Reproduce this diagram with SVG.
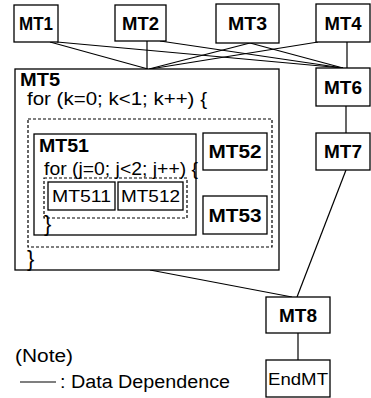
<svg xmlns="http://www.w3.org/2000/svg" width="371" height="398" viewBox="0 0 371 398">
<style>
.box{fill:#fff;stroke:#000;stroke-width:1.3}
.dash{fill:none;stroke:#000;stroke-width:1.2;stroke-dasharray:3,2}
.lbl{font-family:"Liberation Sans",Arial,sans-serif;font-size:18px;font-weight:bold;text-anchor:middle;fill:#000}
.sm{font-family:"Liberation Sans",Arial,sans-serif;font-size:17px;text-anchor:middle;fill:#000}
.code{font-family:"Liberation Sans",Arial,sans-serif;font-size:18px;fill:#000}
.edge{fill:none;stroke:#000;stroke-width:1.2}
</style>
<rect width="371" height="398" fill="#fff"/>
<g id="connectors">
<line class="edge" x1="50" y1="42" x2="148" y2="69"/>
<line class="edge" x1="57" y1="42" x2="343" y2="68"/>
<line class="edge" x1="147" y1="41" x2="147" y2="69"/>
<line class="edge" x1="160" y1="41" x2="343" y2="68"/>
<line class="edge" x1="250" y1="43" x2="149" y2="69"/>
<line class="edge" x1="250" y1="43" x2="343" y2="68"/>
<line class="edge" x1="318" y1="42" x2="150" y2="69"/>
<line class="edge" x1="347" y1="42" x2="347" y2="68"/>
<line class="edge" x1="346" y1="106" x2="346" y2="133"/>
<line class="edge" x1="346" y1="170" x2="297" y2="297"/>
<line class="edge" x1="150" y1="270" x2="292" y2="297"/>
<line class="edge" x1="298" y1="333" x2="298" y2="360"/>
<line class="edge" x1="234" y1="170" x2="234" y2="196"/>
</g>
<g id="MT1"><rect class="box" x="14" y="5" width="44" height="37"/><text class="lbl" x="36" y="30" textLength="34" lengthAdjust="spacingAndGlyphs">MT1</text></g>
<g id="MT2"><rect class="box" x="115" y="5" width="51" height="36"/><text class="lbl" x="140.5" y="30" textLength="37" lengthAdjust="spacingAndGlyphs">MT2</text></g>
<g id="MT3"><rect class="box" x="216" y="4" width="63" height="39"/><text class="lbl" x="247.5" y="30" textLength="39" lengthAdjust="spacingAndGlyphs">MT3</text></g>
<g id="MT4"><rect class="box" x="316" y="4" width="54" height="38"/><text class="lbl" x="343" y="30" textLength="37" lengthAdjust="spacingAndGlyphs">MT4</text></g>
<g id="MT5">
<rect class="box" x="15" y="69" width="264" height="201"/>
<text class="lbl" x="20" y="86" style="text-anchor:start" textLength="40" lengthAdjust="spacingAndGlyphs">MT5</text>
<text class="code" x="27" y="105" textLength="180" lengthAdjust="spacingAndGlyphs">for (k=0; k&lt;1; k++) {</text>
<rect class="dash" x="28" y="119" width="244" height="128"/>
<text class="code" x="27" y="266" style="font-size:22px">}</text>
</g>
<g id="MT51">
<rect class="box" x="34" y="134" width="162" height="101"/>
<text class="lbl" x="39" y="152" style="text-anchor:start" textLength="50" lengthAdjust="spacingAndGlyphs">MT51</text>
<text class="code" x="44" y="175" textLength="154" lengthAdjust="spacingAndGlyphs">for (j=0; j&lt;2; j++) {</text>
<rect class="dash" x="44" y="178" width="143" height="40"/>
<text class="code" x="44" y="231" style="font-size:22px">}</text>
</g>
<g id="MT511"><rect class="box" x="48" y="182" width="67" height="28"/><text class="sm" x="81.5" y="202" textLength="59" lengthAdjust="spacingAndGlyphs">MT511</text></g>
<g id="MT512"><rect class="box" x="118" y="182" width="65" height="28"/><text class="sm" x="150.5" y="202" textLength="59" lengthAdjust="spacingAndGlyphs">MT512</text></g>
<g id="MT52"><rect class="box" x="203" y="133" width="64" height="37"/><text class="lbl" x="235" y="158" textLength="53" lengthAdjust="spacingAndGlyphs">MT52</text></g>
<g id="MT53"><rect class="box" x="203" y="196" width="64" height="38"/><text class="lbl" x="235" y="222" textLength="53" lengthAdjust="spacingAndGlyphs">MT53</text></g>
<g id="MT6"><rect class="box" x="316" y="68" width="54" height="38"/><text class="lbl" x="343" y="94" textLength="38" lengthAdjust="spacingAndGlyphs">MT6</text></g>
<g id="MT7"><rect class="box" x="316" y="133" width="54" height="37"/><text class="lbl" x="343" y="158" textLength="38" lengthAdjust="spacingAndGlyphs">MT7</text></g>
<g id="MT8"><rect class="box" x="266" y="297" width="64" height="36"/><text class="lbl" x="298" y="322" textLength="38" lengthAdjust="spacingAndGlyphs">MT8</text></g>
<g id="EndMT"><rect class="box" x="266" y="360" width="64" height="37"/><text class="sm" x="298" y="385" textLength="60" lengthAdjust="spacingAndGlyphs">EndMT</text></g>
<g id="legend">
<text class="code" x="15" y="362" textLength="58" lengthAdjust="spacingAndGlyphs">(Note)</text>
<line class="edge" x1="20" y1="382" x2="56" y2="382"/>
<text class="code" x="60" y="388" textLength="170" lengthAdjust="spacingAndGlyphs">: Data Dependence</text>
</g>
</svg>
